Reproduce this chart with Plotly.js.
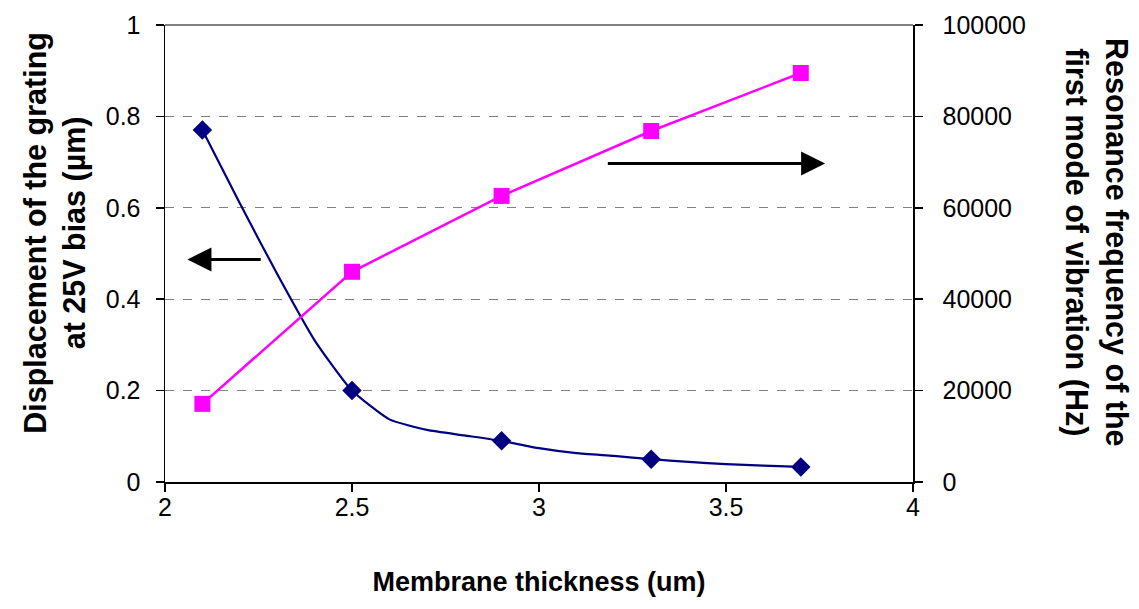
<!DOCTYPE html>
<html>
<head>
<meta charset="utf-8">
<script src="https://cdn.plot.ly/plotly-3.0.1.min.js"></script>
<style>html,body{margin:0;padding:0;background:#fff;}#chart{width:1139px;height:609px;}</style>
</head>
<body>
<div id="chart"></div>
<script>
// Membrane thickness (um) at which markers are shown
const thickness = [2.1, 2.5, 2.9, 3.3, 3.7];
// Displacement of the grating at 25V bias (um), marker values
const displacement = [0.77, 0.20, 0.09, 0.05, 0.033];
// Displacement curve (finer sampling drawn as the smoothed line)
const curveThickness = [2.1, 2.2, 2.3, 2.4, 2.5, 2.6, 2.7, 2.8, 2.9, 3.0, 3.1, 3.2, 3.3, 3.4, 3.5, 3.6, 3.7];
const curveDisplacement = [0.77, 0.61, 0.455, 0.31, 0.20, 0.137, 0.114, 0.102, 0.09, 0.074, 0.063, 0.057, 0.05, 0.044, 0.039, 0.036, 0.033];
// Resonance frequency of the first mode (Hz)
const frequency = [17100, 46000, 62600, 76800, 89500];

// Direction arrows: [tailX, headX, y]
const leftArrow = [2.26, 2.06, 0.487];
const rightArrow = [3.18, 3.765, 0.697];

const FONT = '"Liberation Sans", Arial, sans-serif';

const traces = [
  {
    x: curveThickness, y: curveDisplacement, type: 'scatter', mode: 'lines',
    line: {color: '#000080', width: 2.2, shape: 'spline', smoothing: 0.5},
    hoverinfo: 'skip', showlegend: false
  },
  {
    x: thickness, y: displacement, type: 'scatter', mode: 'markers',
    marker: {symbol: 'diamond', size: 15, color: '#000080'},
    name: 'Displacement', showlegend: false
  },
  {
    x: thickness, y: frequency, type: 'scatter', mode: 'lines+markers', yaxis: 'y2',
    line: {color: '#FF00FF', width: 2.5},
    marker: {symbol: 'square', size: 16, color: '#FF00FF'},
    name: 'Resonance frequency', showlegend: false
  }
];

const layout = {
  width: 1139, height: 609,
  margin: {l: 165, r: 226, t: 25, b: 127},
  paper_bgcolor: '#ffffff', plot_bgcolor: '#ffffff',
  font: {family: FONT, color: '#000000', size: 25},
  showlegend: false,
  xaxis: {
    range: [2, 4], dtick: 0.5, tick0: 2,
    showgrid: false, zeroline: false,
    showline: true, linecolor: '#000000', linewidth: 1.5,
    ticks: 'outside', ticklen: 8, tickwidth: 1.5, tickcolor: '#000000',
    ticklabelstandoff: -6,
    tickfont: {family: FONT, size: 25, color: '#000000'},
    title: {text: 'Membrane thickness (um)', font: {family: FONT, size: 27, color: '#000000', weight: 'bold'}, standoff: 52}
  },
  yaxis: {
    range: [0, 1], dtick: 0.2, tick0: 0,
    showgrid: true, gridcolor: '#808080', gridwidth: 1, griddash: 'dash',
    zeroline: false,
    showline: true, linecolor: '#000000', linewidth: 1.5,
    ticks: 'outside', ticklen: 8, tickwidth: 1.5, tickcolor: '#000000',
    ticklabelstandoff: 10,
    tickfont: {family: FONT, size: 25, color: '#000000'}
  },
  yaxis2: {
    overlaying: 'y', side: 'right', range: [0, 100000], dtick: 20000, tick0: 0,
    showgrid: false, zeroline: false,
    showline: true, linecolor: '#000000', linewidth: 1.5,
    ticks: 'outside', ticklen: 8, tickwidth: 1.5, tickcolor: '#000000',
    ticklabelstandoff: 15,
    tickformat: 'd',
    tickfont: {family: FONT, size: 25, color: '#000000'}
  },
  shapes: [
    {type: 'line', xref: 'paper', yref: 'paper', x0: 0, x1: 1, y0: 1, y1: 1, line: {color: '#808080', width: 2}}
  ],
  annotations: [
    {
      xref: 'paper', yref: 'paper', x: -0.146, y: 0.545, xanchor: 'center', yanchor: 'middle',
      text: 'Displacement of the grating<br>at 25V bias (µm)', textangle: -90, showarrow: false,
      font: {family: FONT, size: 30.5, color: '#000000', weight: 'bold'}
    },
    {
      xref: 'paper', yref: 'paper', x: 1.246, y: 0.525, xanchor: 'center', yanchor: 'middle',
      text: 'Resonance frequency of the<br>first mode of vibration (Hz)', textangle: 90, showarrow: false,
      font: {family: FONT, size: 30.5, color: '#000000', weight: 'bold'}
    },
    {
      xref: 'x', yref: 'y', axref: 'x', ayref: 'y',
      x: leftArrow[1], y: leftArrow[2], ax: leftArrow[0], ay: leftArrow[2],
      showarrow: true, arrowhead: 2, arrowsize: 1.6, arrowwidth: 3, arrowcolor: '#000000', text: ''
    },
    {
      xref: 'x', yref: 'y', axref: 'x', ayref: 'y',
      x: rightArrow[1], y: rightArrow[2], ax: rightArrow[0], ay: rightArrow[2],
      showarrow: true, arrowhead: 2, arrowsize: 1.6, arrowwidth: 3, arrowcolor: '#000000', text: ''
    }
  ]
};

Plotly.newPlot('chart', traces, layout, {displayModeBar: false, staticPlot: true});
</script>
</body>
</html>
